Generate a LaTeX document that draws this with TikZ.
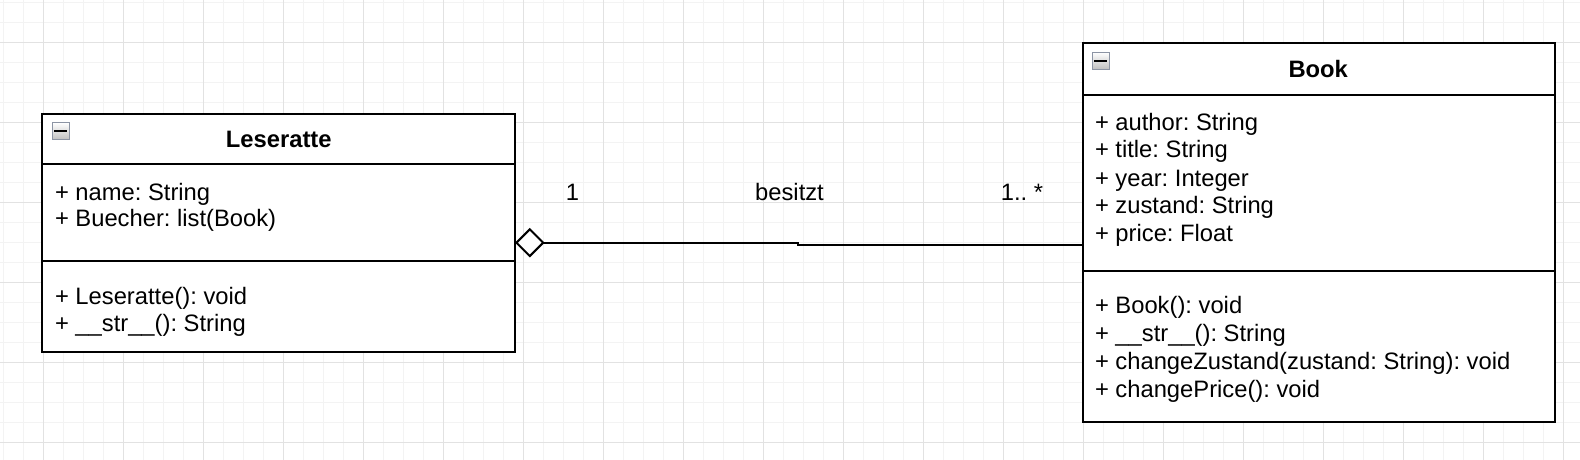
\documentclass[tikz,border=0pt]{standalone}
\usepackage{fontspec}
\setmainfont{Liberation Sans}
\usepackage{tikz}
\usetikzlibrary{arrows.meta, positioning}

\definecolor{gridminor}{HTML}{F3F3F3}
\definecolor{gridmajor}{HTML}{E2E2E2}
\definecolor{iconedge}{HTML}{8C94A4}
\frenchspacing

\begin{document}
\begin{tikzpicture}[font=\fontsize{16.9}{20}\selectfont, line width=0.05cm,
  classbox/.style={draw, fill=white, inner sep=0pt, outer sep=0pt, anchor=north west},
  classname/.style={anchor=base, inner sep=0pt, font=\fontsize{16.9}{20}\selectfont\bfseries},
  member/.style={anchor=base west, inner sep=0pt},
  mult/.style={anchor=base, inner sep=0pt},
  collapse/.style={draw=iconedge, line width=0.025cm, top color=white, bottom color=black!25,
    minimum size=0.43cm, inner sep=0pt},
  aggr/.style={-{Diamond[fill=white, length=0.74cm, width=0.74cm]}}]
  \useasboundingbox (0,0) rectangle (39.5,11.5);

  % Background grid
  \fill[white] (0,0) rectangle (39.5,11.5);
  \begin{scope}[shift={(0.075,0.425)}]
    \draw[gridminor, line width=0.025cm, step=0.5] (-0.075,-0.425) grid (39.425,11.075);
  \end{scope}
  \begin{scope}[shift={(1.075,0.425)}]
    \draw[gridmajor, line width=0.025cm, step=2] (-1.075,-0.425) grid (38.425,11.075);
  \end{scope}

  % Class Leseratte (left)
  \node[classbox, minimum width=11.825cm, minimum height=5.9575cm] (les) at (1.05,8.645) {};
  \draw (les.west |- 0,7.3925) -- (les.east |- 0,7.3925);
  \draw (les.west |- 0,4.975) -- (les.east |- 0,4.975);
  \node[collapse, below right=0.2cm and 0.24cm of les.north west] (lesicon) {};
  \draw ([xshift=0.07cm]lesicon.west) -- ([xshift=-0.07cm]lesicon.east);
  \node[classname] (lestitle) at (6.97,7.8075) {Leseratte};
  \node[member] (lesname) at (1.35,6.4925) {+ name: String};
  \node[member] (lesbooks) at (1.35,5.825) {+ Buecher: list(Book)};
  \node[member] (lesinit) at (1.35,3.8925) {+ Leseratte(): void};
  \node[member] (lesstr) at (1.35,3.2) {+ \_\_str\_\_(): String};

  % Class Book (right)
  \node[classbox, minimum width=11.8cm, minimum height=9.475cm] (book) at (27.07,10.4175) {};
  \draw (book.west |- 0,9.125) -- (book.east |- 0,9.125);
  \draw (book.west |- 0,4.7325) -- (book.east |- 0,4.7325);
  \node[collapse, below right=0.21cm and 0.22cm of book.north west] (bookicon) {};
  \draw ([xshift=0.07cm]bookicon.west) -- ([xshift=-0.07cm]bookicon.east);
  \node[classname] (booktitle) at (32.955,9.5575) {Book};
  \node[member] (bookauthor) at (27.35,8.2425) {+ author: String};
  \node[member] (booktitleattr) at (27.35,7.55) {+ title: String};
  \node[member] (bookyear) at (27.35,6.8425) {+ year: Integer};
  \node[member] (bookstate) at (27.35,6.1575) {+ zustand: String};
  \node[member] (bookprice) at (27.35,5.45) {+ price: Float};
  \node[member] (bookinit) at (27.35,3.6575) {+ Book(): void};
  \node[member] (bookstr) at (27.35,2.9675) {+ \_\_str\_\_(): String};
  \node[member] (bookchstate) at (27.35,2.2575) {+ changeZustand(zustand: String): void};
  \node[member] (bookchprice) at (27.35,1.5575) {+ changePrice(): void};

  % Aggregation besitzt
  \coordinate (jog) at (19.9575,5.4075);
  \draw[aggr] (book.west |- 0,5.3825) -- (jog |- 0,5.3825) -- (jog |- 0,5.4325)
    -- (les.east |- 0,5.4325);
  \node[mult] (lesmult) at (14.3125,6.475) {1};
  \node[mult] (assoclabel) at (19.7375,6.475) {besitzt};
  \node[mult] (bookmult) at (25.55,6.475) {1.. *};
\end{tikzpicture}
\end{document}
